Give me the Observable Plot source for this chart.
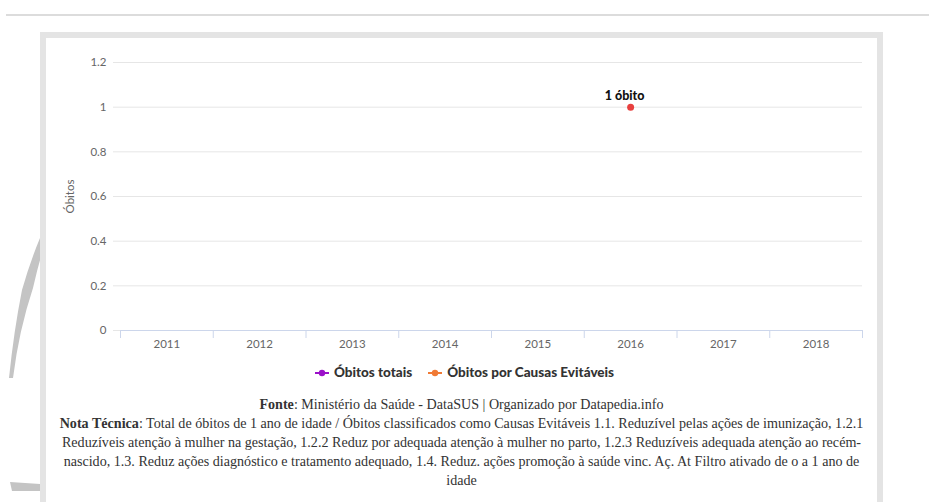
<!DOCTYPE html>
<html>
<head>
<meta charset="utf-8">
<script src="https://cdn.jsdelivr.net/npm/d3@7"></script>
<script src="https://cdn.jsdelivr.net/npm/@observablehq/plot@0.6"></script>
<style>
  html, body { margin: 0; padding: 0; background: #fff; width: 929px; height: 502px; overflow: hidden; position: relative; }
  #topline { position: absolute; left: 6px; right: 0; top: 14px; height: 2px; background: #dcdcdc; }
  #frame { position: absolute; left: 40px; top: 32px; width: 831px; height: 500px; border: 6px solid #e4e4e4; background: #fff; }
  #deco { position: absolute; left: 0; top: 0; }
  #chart { position: absolute; left: 0; top: 0; }
  #legend { position: absolute; left: 0; width: 929px; top: 364px; text-align: center; font-family: Lato, "Open Sans", sans-serif; font-weight: 900; font-size: 13.5px; color: #333; white-space: nowrap; }
  #legend span.item { display: inline-block; margin: 0 8px; }
  #legend svg { vertical-align: middle; margin-right: 5px; position: relative; top: -1px; }
  #footer { position: absolute; left: 46px; width: 831px; top: 395px; text-align: center; font-family: "Liberation Serif", "DejaVu Serif", serif; font-size: 14.1px; line-height: 19px; color: #333; }
  #footer b { font-weight: 700; }
</style>
</head>
<body>
<div id="topline"></div>
<svg id="deco" width="46" height="502">
  <path d="M40,238 Q30,262 22,290 Q14,330 9,378 L13,378 Q19,330 33,288 Q38,266 44,246 Z" fill="#c4c4c4"/>
  <path d="M10,482 L40,484 L40,491 L12,491 Z" fill="#c4c4c4"/>
</svg>
<div id="frame"></div>
<div id="chart"></div>
<div id="legend"></div>
<div id="footer"></div>
<script>
// ---- data ----
const years = [2011, 2012, 2013, 2014, 2015, 2016, 2017, 2018];
const obitosTotais = [null, null, null, null, null, 1, null, null];
const obitosEvitaveis = [null, null, null, null, null, 1, null, null];
const pointLabels = [null, null, null, null, null, "1 óbito", null, null];
const yTicks = [0, 0.2, 0.4, 0.6, 0.8, 1, 1.2];
const seriesNames = ["Óbitos totais", "Óbitos por Causas Evitáveis"];
const seriesColors = ["#9b10c9", "#f07a35"];
const pointColor = "#e8403f";
const yLabel = "Óbitos";
const fonteText = "Ministério da Saúde - DataSUS | Organizado por Datapedia.info";
const notaLines = [
  "Total de óbitos de 1 ano de idade / Óbitos classificados como Causas Evitáveis 1.1. Reduzível pelas ações de imunização, 1.2.1",
  "Reduzíveis atenção à mulher na gestação, 1.2.2 Reduz por adequada atenção à mulher no parto, 1.2.3 Reduzíveis adequada atenção ao recém-",
  "nascido, 1.3. Reduz ações diagnóstico e tratamento adequado, 1.4. Reduz. ações promoção à saúde vinc. Aç. At Filtro ativado de o a 1 ano de",
  "idade"
];

const rows = years.map((y, i) => ({year: y, total: obitosTotais[i], evit: obitosEvitaveis[i], label: pointLabels[i]}));
const pts = rows.filter(d => d.total != null);
const bounds = [years[0] - 0.5, ...years.map(y => y + 0.5)];

const font = 'Lato, "Open Sans", sans-serif';
const chart = Plot.plot({
  width: 929,
  height: 360,
  marginLeft: 113,
  marginRight: 67,
  marginTop: 62,
  marginBottom: 30,
  style: {fontFamily: font, fontSize: "11.5px", color: "#666", background: "transparent", overflow: "visible"},
  x: {type: "linear", domain: [bounds[0], bounds[bounds.length - 1]], range: [120, 862]},
  y: {domain: [0, 1.2]},
  marks: [
    Plot.gridY(yTicks, {stroke: "#e6e6e6", strokeOpacity: 1}),
    Plot.ruleY([0], {stroke: "#ccd6eb", x1: bounds[0], x2: bounds[bounds.length - 1]}),
    Plot.axisX(bounds, {tickSize: 8, tickFormat: () => "", stroke: "#ccd6eb", label: null}),
    Plot.axisX(years, {tickSize: 0, tickPadding: 9, tickFormat: d => String(d), fill: "#666", label: null}),
    Plot.axisY(yTicks, {tickSize: 0, tickPadding: 7, tickFormat: d => String(d), fill: "#666",
      label: yLabel, labelAnchor: "center", labelArrow: "none", labelOffset: 48, fontSize: 11.5}),
    Plot.dot(pts, {x: "year", y: "total", r: 3.5, fill: pointColor, stroke: "none"}),
    Plot.text(pts, {x: "year", y: "total", text: "label", dy: -11, dx: -6, fontWeight: 900, fontSize: 12.5, fill: "#111"})
  ]
});
document.getElementById("chart").appendChild(chart);

// legend
const leg = document.getElementById("legend");
seriesNames.forEach((n, i) => {
  const s = document.createElement("span");
  s.className = "item";
  s.innerHTML = `<svg width="14" height="10"><line x1="0" y1="5" x2="14" y2="5" stroke="${seriesColors[i]}" stroke-width="2"/><circle cx="7" cy="5" r="3.2" fill="${seriesColors[i]}"/></svg>${n}`;
  leg.appendChild(s);
});

// footer
const f = document.getElementById("footer");
f.innerHTML = `<div><b>Fonte</b>: ${fonteText}</div><div><b>Nota Técnica</b>: ${notaLines.join("<br>")}</div>`;
</script>
</body>
</html>
